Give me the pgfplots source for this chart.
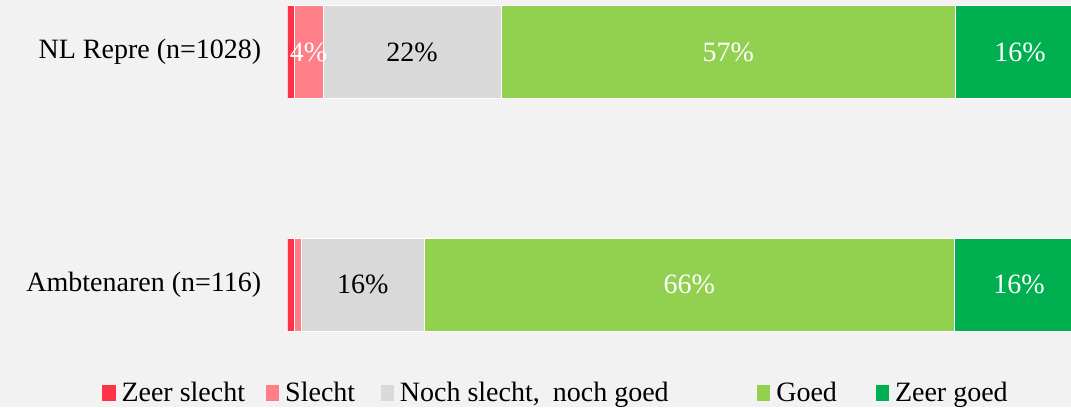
\documentclass[border=0pt]{standalone}
\usepackage{pgfplots}
\pgfplotsset{compat=1.18}
\usepackage{fontspec}
\setmainfont{Liberation Serif}
\definecolor{bg}{HTML}{F2F2F2}
\definecolor{zs}{HTML}{FF3347}
\definecolor{sl}{HTML}{FF7F89}
\definecolor{nn}{HTML}{D9D9D9}
\definecolor{gd}{HTML}{92D050}
\definecolor{zg}{HTML}{00B050}
\newcommand{\cf}{\fontsize{14}{16}\selectfont}
\begin{document}
\begin{tikzpicture}[font=\cf]
\fill[bg] (0,0) rectangle (535.5pt,-203.5pt);
\begin{axis}[
  at={(143.65pt,0pt)}, anchor=north west,
  scale only axis, width=391.85pt, height=177.5pt,
  xbar stacked, bar width=46.5pt,
  xmin=0, xmax=98.33, ymin=-0.303, ymax=1.2247,
  axis line style={draw=none},
  xtick=\empty, ytick={0,1},
  yticklabels={Ambtenaren (n=116), NL Repre (n=1028)},
  major tick length=0pt,
  tick style={draw=none},
  yticklabel style={font=\cf, xshift=-9.5pt},
  legend style={at={(-0.2368,-0.107)}, anchor=west, legend columns=5,
    draw=none, fill=none, font=\cf, inner sep=0pt,
    /tikz/every even column/.append style={column sep=0pt}},
  legend cell align=left,
  legend image code/.code={\path[#1,draw=none] (0pt,-3.8pt) rectangle (6.7pt,4pt);},
  every axis plot/.append style={draw=white, line width=0.25pt},
]
\addplot[fill=zs] coordinates {(0.875,1) (0.862,0)};
\addplot[fill=sl] coordinates {(3.60,1) (0.862,0)};
\addplot[fill=nn] coordinates {(22.37,1) (15.52,0)};
\addplot[fill=gd] coordinates {(57.00,1) (66.38,0)};
\addplot[fill=zg] coordinates {(16.15,1) (16.38,0)};
\legend{\makebox[71.15pt][l]{\hspace{1pt}Zeer slecht},
        \makebox[46.65pt][l]{\hspace{1pt}Slecht},
        \makebox[177.5pt][l]{\hspace{1pt}Noch slecht,\hspace{3pt} noch goed},
        \makebox[48.65pt][l]{\hspace{1pt}Goed},
        \makebox[60pt][l]{\hspace{1pt}Zeer goed}}
\coordinate (a1) at (axis cs:2.675,1);
\coordinate (a2) at (axis cs:15.66,1);
\coordinate (a3) at (axis cs:55.345,1);
\coordinate (a4) at (axis cs:91.92,1);
\coordinate (b1) at (axis cs:9.484,0);
\coordinate (b2) at (axis cs:50.43,0);
\coordinate (b3) at (axis cs:91.81,0);
\end{axis}
\node[white] at (a1) {4\%};
\node[black] at (a2) {22\%};
\node[white] at (a3) {57\%};
\node[white] at (a4) {16\%};
\node[black] at (b1) {16\%};
\node[white] at (b2) {66\%};
\node[white] at (b3) {16\%};
\pgfresetboundingbox
\path (0,0) rectangle (535.5pt,-203.5pt);
\end{tikzpicture}
\end{document}
